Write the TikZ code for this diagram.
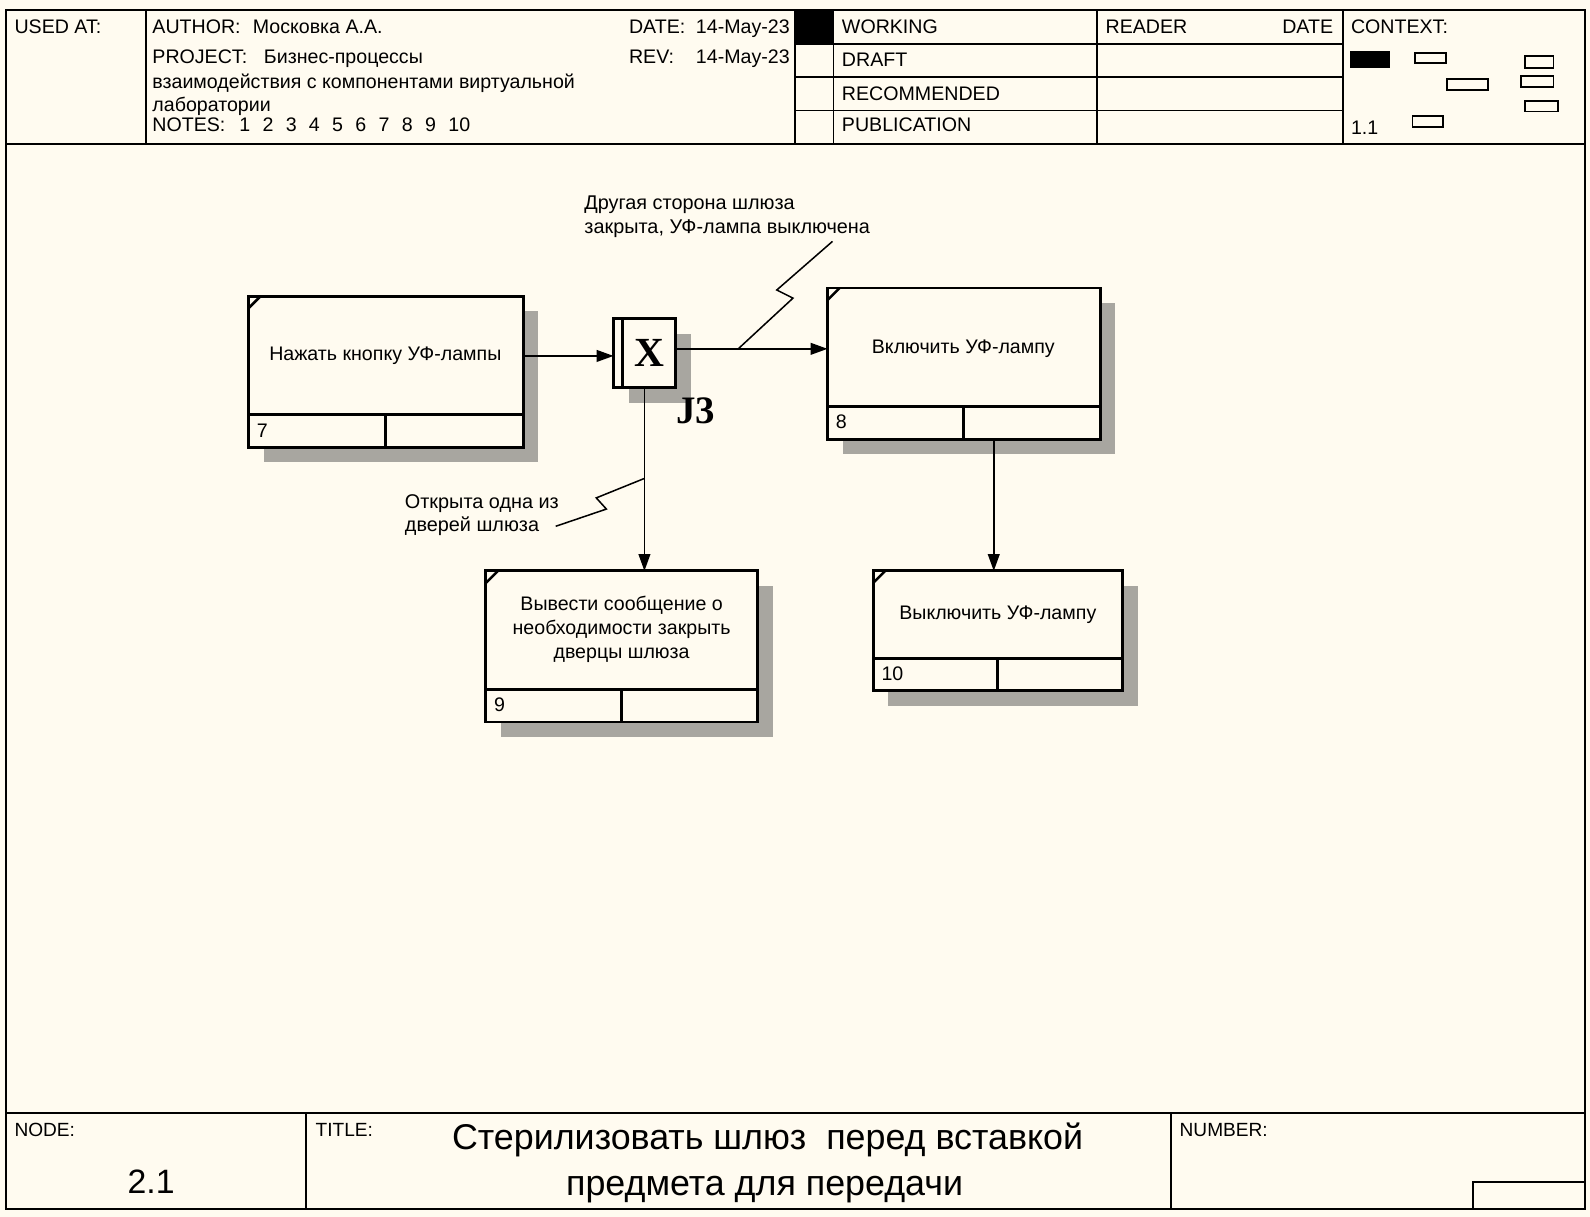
\documentclass[tikz,border=0pt]{standalone}
\usepackage{fontspec}
\setmainfont{Liberation Sans}
\newfontfamily\tnr{Liberation Serif}
\usetikzlibrary{arrows.meta,calc,shadows}
\definecolor{bg}{RGB}{255,251,240}
\definecolor{shd}{RGB}{168,166,160}
\newcommand\ngap{\hspace{7.3pt}}
\newcommand\boxparts[2]{%
  \draw[boxline] ($(#1.south west)+(0,-32)$) -- ($(#1.south east)+(0,-32)$);
  \draw[boxline] ($(#1.south)+(0,-32)$) -- (#1.south);
  \draw[line width=1.5pt] ($(#1.north west)+(0,12)$) -- ($(#1.north west)+(12,0)$);
  \node[bnum] (#1n) at ($(#1.south west)+(8,-10)$) {#2};
}
\begin{document}
\begin{tikzpicture}[x=0.6pt,y=-0.6pt,
  frame/.style={line width=1.2pt},
  grid/.style={line width=1.1pt},
  boxline/.style={line width=1.7pt},
  hdr/.style={anchor=base west,inner sep=0,font=\fontsize{11.6}{13}\selectfont},
  ftr/.style={anchor=base west,inner sep=0,font=\fontsize{11.3}{12}\selectfont},
  abox/.style={draw,line width=1.7pt,fill=bg,inner sep=0,outer sep=0,
     drop shadow={shadow xshift=9pt,shadow yshift=-9pt,fill=shd,opacity=1}},
  btxt/.style={align=center,inner sep=0,font=\fontsize{11.6}{14.4}\selectfont},
  bnum/.style={anchor=base west,inner sep=0,font=\fontsize{11.6}{13}\selectfont},
  conn/.style={line width=0.9pt,-{Triangle[length=10pt,width=7pt]}},
  lead/.style={line width=0.9pt},
  lbl/.style={anchor=base west,inner sep=0,font=\fontsize{11.75}{14.4}\selectfont},
  ttl/.style={anchor=base,inner sep=0,font=\fontsize{21.2}{24}\selectfont},
]
\fill[bg] (0,0) rectangle (1568,1200);
\useasboundingbox (0,0) rectangle (1568,1200);
% frame
\draw[frame] (6,10) rectangle (1563,1192);
\draw[frame] (6,142) -- (1563,142);
\draw[frame] (6,1098) -- (1563,1098);
% header grid
\draw[grid] (144,10) -- (144,142);
\draw[grid] (784,10) -- (784,142);
\draw[grid] (822,10) -- (822,142);
\draw[grid] (1082,10) -- (1082,142);
\draw[grid] (1324,10) -- (1324,142);
\draw[grid] (784,43) -- (1324,43);
\draw[grid] (784,76) -- (1324,76);
\draw[grid] (784,109) -- (1324,109);
\fill (784,10) rectangle (822,43);
% context
\fill (1331,50) rectangle (1371,67);
\draw[grid] (1395,52) rectangle (1426,62);
\draw[grid] (1427,78) rectangle (1467,89);
\draw[grid] (1504,55) rectangle (1532,67);
\draw[grid] (1500,75) rectangle (1532,86);
\draw[grid] (1504,100) rectangle (1536,110);
\draw[grid] (1393,114) rectangle (1423,125);
% footer grid
\draw[frame] (302,1098) -- (302,1192);
\draw[frame] (1155,1098) -- (1155,1192);
\draw[frame] (1453,1192) -- (1453,1166) -- (1563,1166);
% header texts
\node[hdr] (usedat) at (14,33) {USED AT:};
\node[hdr] (author) at (150,33) {AUTHOR:};
\node[hdr] (authorv) at (249,33) {Московка А.А.};
\node[hdr] (date) at (620,33) {DATE:};
\node[hdr] (datev) at (686,33) {14-May-23};
\node[hdr] (proj) at (150,63) {PROJECT:};
\node[hdr] (projv) at (260,63) {Бизнес-процессы};
\node[hdr] (rev) at (620,63) {REV:};
\node[hdr] (revv) at (686,63) {14-May-23};
\node[hdr] (proj2) at (150,87) {взаимодействия с компонентами виртуальной};
\node[hdr] (proj3) at (150,110) {лаборатории};
\node[hdr] (notes) at (150,130) {NOTES:\hspace{8.2pt}1\ngap 2\ngap 3\ngap 4\ngap 5\ngap 6\ngap 7\ngap 8\ngap 9\ngap 10};
\node[hdr] (working) at (830,33) {WORKING};
\node[hdr] (draft) at (830,66) {DRAFT};
\node[hdr] (recom) at (830,99) {RECOMMENDED};
\node[hdr] (publ) at (830,130) {PUBLICATION};
\node[hdr] (reader) at (1090,33) {READER};
\node[hdr,anchor=base east] (rdate) at (1315,33) {DATE};
\node[hdr] (context) at (1332,33) {CONTEXT:};
\node[hdr] (ctxnum) at (1332,133) {1.1};
% footer texts
\node[ftr] (nodel) at (14,1121) {NODE:};
\node[ftr] (titlel) at (311,1121) {TITLE:};
\node[ftr] (numberl) at (1163,1121) {NUMBER:};
\node[anchor=base,inner sep=0,font=\fontsize{20}{24}\selectfont] (nodev) at (149,1177) {2.1};
\node[ttl] (title1) at (757,1134) {Стерилизовать шлюз\ \ перед вставкой};
\node[ttl] (title2) at (754,1179) {предмета для передачи};
% boxes
\node[abox,minimum width=162.6pt,minimum height=89.4pt] (b7) at (380.5,366.5) {};
\boxparts{b7}{7}
\node[abox,minimum width=161.4pt,minimum height=89.4pt] (b8) at (950.5,358.5) {};
\boxparts{b8}{8}
\node[abox,minimum width=160.8pt,minimum height=89.4pt] (b9) at (613,637.5) {};
\boxparts{b9}{9}
\node[abox,minimum width=147.6pt,minimum height=70.8pt] (b10) at (984,622) {};
\boxparts{b10}{10}
\node[btxt] (t7) at (380,351) {Нажать кнопку УФ-лампы};
\node[btxt] (t8) at (950,343.5) {Включить УФ-лампу};
\node[btxt] (t9) at (613,620.5) {Вывести сообщение о\\необходимости закрыть\\дверцы шлюза};
\node[btxt] (t10) at (984,606) {Выключить УФ-лампу};
% junction
\node[abox,minimum width=36.6pt,minimum height=40.8pt] (j3) at (635.5,348) {};
\draw[boxline] ($(j3.north west)+(8.5,0)$) -- ($(j3.south west)+(8.5,0)$);
\node[inner sep=0,font=\tnr\bfseries\fontsize{24.5}{26}\selectfont] (jx) at (640,348) {X};
\node[inner sep=0,font=\tnr\bfseries\fontsize{23}{26}\selectfont] (jname) at (686,405) {J3};
% connectors
\coordinate (a1) at (0,351);
\coordinate (a2) at (0,344);
\coordinate (a4) at (980,0);
\draw[conn] (b7.east |- a1) -- (j3.west |- a1);
\draw[conn] (j3.east |- a2) -- (b8.west |- a2);
\draw[conn] (j3.south) -- (b9.north -| j3.south);
\draw[conn] (b8.south -| a4) -- (b10.north -| a4);
% labels
\node[lbl] (lab1a) at (576,207) {Другая сторона шлюза};
\node[lbl] (lab1b) at (576,230) {закрыта, УФ-лампа выключена};
\coordinate (l1s) at (821,238);
\coordinate (l1e) at (728,344);
\draw[lead] (l1s) -- (766,286) -- (782,294) -- (l1e);
\node[lbl] (lab2a) at (399,501) {Открыта одна из};
\node[lbl] (lab2b) at (399,524) {дверей шлюза};
\coordinate (l2s) at (635,472);
\coordinate (l2e) at (548,519);
\draw[lead] (l2s) -- (588,491) -- (598,502) -- (l2e);
\end{tikzpicture}
\end{document}
